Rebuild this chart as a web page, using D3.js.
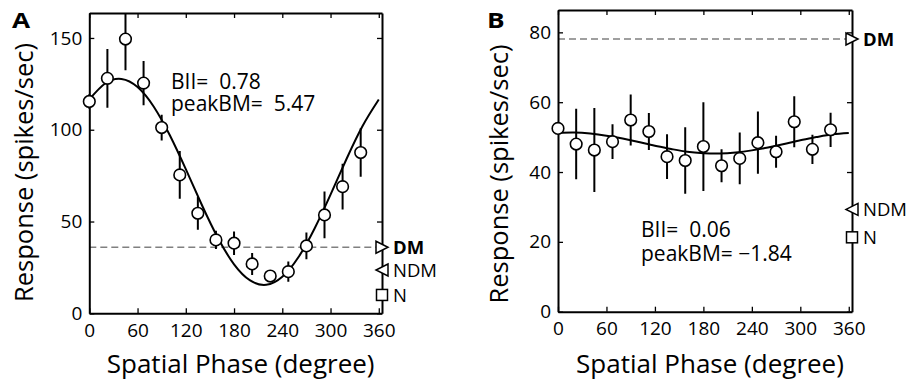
<!DOCTYPE html>
<html><head><meta charset="utf-8">
<script src="https://cdn.jsdelivr.net/npm/d3@7"></script>
<style>
body{margin:0;background:#fff}
svg{display:block}
text{font-family:"Open Sans",sans-serif;fill:#000}
</style>
</head><body><svg id="c" width="906" height="384"></svg>
<script>
// ---------- data ----------
const phases = [0,22.5,45,67.5,90,112.5,135,157.5,180,202.5,225,247.5,270,292.5,315,337.5];
const respA  = [115.4,128,149.4,125.4,101.2,75.4,54.5,40,38.2,26.9,20.3,22.7,36.7,53.6,69,87.6];
const semA   = [4,16,17,12,7,13,9,5,6.4,6,3,5.5,7.3,12.7,12.5,13.2];
const respB  = [52.5,48,46.3,48.7,54.9,51.6,44.4,43.3,47.3,41.8,43.9,48.4,45.8,54.4,46.5,52.1];
const semB   = [1.5,10.1,12,5,7.3,5.3,6.4,9.5,12.7,4.7,7.4,8.9,4.6,7.3,4.2,4.9];
const fitPhases = [0,20,40,60,80,100,120,140,160,180,200,220,240,260,280,300,320,340,360];
const fitA   = [116.5,125.3,127.7,123.3,112.7,97.1,78.5,59.0,41.0,26.7,17.9,15.5,19.9,30.5,46.1,64.7,84.2,102.2,116.5];
const fitB   = [51.2,51.3,51.0,50.4,49.6,48.6,47.5,46.6,45.8,45.4,45.3,45.6,46.2,47.0,48.0,49.1,50.0,50.8,51.2];
const xTicks  = [0,60,120,180,240,300,360];
const yTicksA = [0,50,100,150];
const yTicksB = [0,20,40,60,80];
const refLabels = ["DM","NDM","N"];
const refA = [36,23.6,10];
const refB = [78.1,29.3,21.3];
const statLinesA = ["BII=  0.78","peakBM=  5.47"];
const statLinesB = ["BII=  0.06","peakBM= \u22121.84"];
const panelLetters = ["A","B"];
const xTitle = "Spatial Phase (degree)";
const yTitle = "Response (spikes/sec)";

// ---------- drawing ----------
const svg = d3.select("#c");

function panel(cfg){
  const {left,right,top,bottom,ymax,resp,sem,fit,yTicks,refs,statLines,statX,statY,statDy,
         letter,letterX,yTitleOff,yTitleC} = cfg;
  const x = d3.scaleLinear().domain([0,364]).range([left,right]);
  const y = d3.scaleLinear().domain([0,ymax]).range([bottom,top]);
  const g = svg.append("g");
  const clipId = "clip"+letter;
  svg.append("clipPath").attr("id",clipId).append("rect")
    .attr("x",left-20).attr("y",top).attr("width",right-left+40).attr("height",bottom-top);

  // dashed DM line
  g.append("line").attr("x1",left).attr("x2",right)
    .attr("y1",y(refs[0])).attr("y2",y(refs[0]))
    .attr("stroke","#808080").attr("stroke-width",1.6).attr("stroke-dasharray","7,4");

  // axes (box, inward ticks)
  const tk = 5;
  const ax = d3.axisBottom(x).tickValues(xTicks).tickSizeInner(-tk).tickSizeOuter(0).tickPadding(9);
  const ay = d3.axisLeft(y).tickValues(yTicks).tickSizeInner(-tk).tickSizeOuter(0).tickPadding(7);
  const axT = d3.axisTop(x).tickValues(xTicks).tickSizeInner(-tk).tickSizeOuter(0).tickFormat("");
  const ayR = d3.axisRight(y).tickValues(yTicks).tickSizeInner(-tk).tickSizeOuter(0).tickFormat("");
  const gx = g.append("g").attr("transform",`translate(0,${bottom})`).call(ax);
  const gy = g.append("g").attr("transform",`translate(${left},0)`).call(ay);
  const gt = g.append("g").attr("transform",`translate(0,${top})`).call(axT);
  const gr = g.append("g").attr("transform",`translate(${right},0)`).call(ayR);
  [gx,gy,gt,gr].forEach(a=>{
    a.select(".domain").attr("stroke","#000").attr("stroke-width",2);
    a.selectAll(".tick line").attr("stroke","#000").attr("stroke-width",1.3);
    a.selectAll(".tick text").attr("font-size",19).attr("font-family","'Open Sans',sans-serif").attr("fill","#000");
  });
  gx.selectAll(".tick text").attr("dy","0.75em");

  // error bars (clipped at the top of the axes)
  const pg = g.append("g").attr("clip-path",`url(#${clipId})`);
  pg.selectAll("line.err").data(phases).join("line").attr("class","err")
    .attr("x1",d=>x(d)).attr("x2",d=>x(d))
    .attr("y1",(d,i)=>y(resp[i]-sem[i])).attr("y2",(d,i)=>y(resp[i]+sem[i]))
    .attr("stroke","#000").attr("stroke-width",2);

  // fitted curve
  const line = d3.line().x(d=>x(d[0])).y(d=>y(d[1])).curve(d3.curveNatural);
  g.append("path").datum(fitPhases.map((p,i)=>[p,fit[i]]))
    .attr("d",line).attr("fill","none").attr("stroke","#000").attr("stroke-width",2);

  // data points
  g.selectAll("circle.pt").data(phases).join("circle").attr("class","pt")
    .attr("cx",d=>x(d)).attr("cy",(d,i)=>y(resp[i])).attr("r",5.8)
    .attr("fill","#fff").attr("stroke","#000").attr("stroke-width",1.6);

  // reference markers on right axis
  const s = 6;
  const yDM = y(refs[0]), yNDM = y(refs[1]), yN = y(refs[2]);
  g.append("path").attr("d",`M${right-s},${yDM-s}L${right+s},${yDM}L${right-s},${yDM+s}Z`)
    .attr("fill","#fff").attr("stroke","#000").attr("stroke-width",1.5);
  g.append("path").attr("d",`M${right+s},${yNDM-s}L${right-s},${yNDM}L${right+s},${yNDM+s}Z`)
    .attr("fill","#fff").attr("stroke","#000").attr("stroke-width",1.5);
  g.append("rect").attr("x",right-5.5).attr("y",yN-5.5).attr("width",11).attr("height",11)
    .attr("fill","#fff").attr("stroke","#000").attr("stroke-width",1.5);
  refLabels.forEach((lab,i)=>{
    g.append("text").attr("x",right+11).attr("y",y(refs[i])).attr("dy","0.36em")
      .attr("font-size",18.5).attr("font-weight",i===0?"bold":"normal").text(lab);
  });

  // stats text
  const st = g.append("text").attr("font-size",21).style("white-space","pre");
  statLines.forEach((s,i)=>{
    st.append("tspan").attr("x",statX).attr("y",statY+i*statDy).text(s);
  });

  // titles
  g.append("text").attr("x",(left+right)/2+5).attr("y",373).attr("text-anchor","middle")
    .attr("font-size",26).text(xTitle);
  g.append("text").attr("transform",`translate(${left-yTitleOff},${yTitleC}) rotate(-90)`)
    .attr("text-anchor","middle").attr("font-size",25.5).text(yTitle);
  g.append("text").attr("transform",`translate(${letterX},28) scale(1.25,1)`)
    .attr("font-size",21).attr("font-weight","bold")
    .attr("font-family","'Liberation Sans',Arial,sans-serif").text(letter);
}

panel({left:89.3,right:382,top:13,bottom:313.3,ymax:163.6,resp:respA,sem:semA,fit:fitA,
  yTicks:yTicksA,refs:refA,statLines:statLinesA,statX:171,statY:89,statDy:22,
  letter:panelLetters[0],letterX:12,yTitleOff:56,yTitleC:172.5});
panel({left:558,right:852,top:10,bottom:311.7,ymax:86.4,resp:respB,sem:semB,fit:fitB,
  yTicks:yTicksB,refs:refB,statLines:statLinesB,statX:641,statY:237,statDy:24,
  letter:panelLetters[1],letterX:487,yTitleOff:50,yTitleC:174});
</script>
</body></html>
